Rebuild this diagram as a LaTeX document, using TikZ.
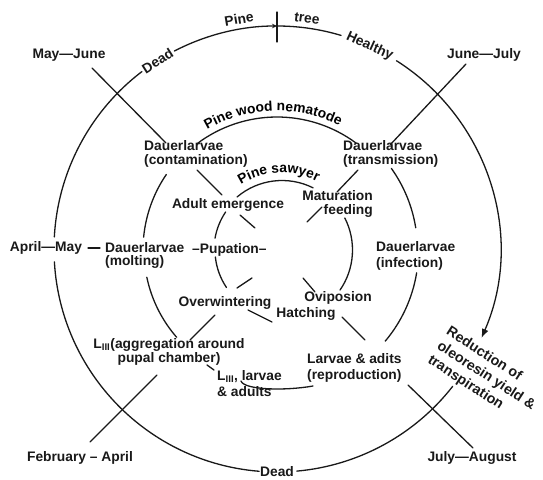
\documentclass[tikz,border=0pt]{standalone}
\usepackage{fontspec}
\setmainfont{Liberation Sans}
\usetikzlibrary{decorations.text,arrows.meta}
\newcommand\lblfont{\fontsize{13.8}{13.5}\selectfont\bfseries}
\newcommand\lblwide{\fontsize{13.8}{15.5}\selectfont\bfseries}
\newcommand\redfont{\fontsize{14.2}{17}\selectfont\bfseries}
\tikzset{
  lbl/.style={font=\lblfont, inner sep=0pt, text=black!90},
  lblw/.style={font=\lblwide, inner sep=0pt, text=black!90},
  ln/.style={line width=1.3pt, line cap=round, draw=black!90},
}
\begin{document}
\begin{tikzpicture}[x=1pt,y=-1pt]
\fill[white] (0,0) rectangle (543,479);
\useasboundingbox (0,0) rectangle (543,479);
\coordinate (O) at (277,249);
\coordinate (M) at (277,250);
\coordinate (I) at (282,250);

% ---- outer circle (pine tree) ----
\draw[ln] (O) ++(94.6:223) arc[start angle=94.6, end angle=176.7, radius=223];
\draw[ln] (O) ++(183.1:223) arc[start angle=183.1, end angle=232.7, radius=223];
\draw[ln, -{Stealth[length=5pt,width=4.5pt]}] (O) ++(242.6:223) arc[start angle=242.6, end angle=270, radius=223];
\draw[ln] (O) ++(270:223) arc[start angle=270, end angle=286.7, radius=223];
\draw[ln, -{Latex[length=9pt,width=7pt]}] (O) ++(302.4:223) arc[start angle=302.4, end angle=383.5, radius=223];
\draw[ln] (O) ++(38:223) arc[start angle=38, end angle=84.9, radius=223];
\coordinate (tk1) at (277,12);
\coordinate (tk2) at (277,42);
\draw[ln] (tk1) -- (tk2);

\node[lbl, rotate=9.5] (pine) at (239,19) {Pine};
\node[lbl, rotate=-7.7] (tree) at (307,18.5) {tree};
\node[lbl, rotate=32.4] (deadtop) at (157.5,60.8) {Dead};
\node[lbl, rotate=-24.5] (healthy) at (369.7,46.2) {Healthy};
\node[lbl] (deadbot) at (277,472) {Dead};
\node[font=\redfont, inner sep=0pt, text=black!90, rotate=-33, align=left] (red) at (486,376)
  {Reduction of\\oleoresin yield \&\\transpiration};

% ---- months ----
\node[lbl] (mj) at (69,55) {May—June};
\node[lbl] (jj) at (484,55) {June—July};
\node[lbl] (fa) at (80,458) {February – April};
\node[lbl] (ja) at (472,458) {July—August};
\node[lbl] (am) at (46,248) {April—May};

% ---- middle ring (pine wood nematode) ----
\draw[ln] (M) ++(233:133) arc[start angle=233, end angle=306.5, radius=133];
\path[decorate, decoration={text along path, text={|\lblfont|Pine wood nematode}, text align=center}]
  (M) ++(230:139) arc[start angle=230, end angle=306.6, radius=139];
\draw[ln] (M) ++(185.5:134) arc[start angle=185.5, end angle=214.3, radius=134];
\draw[ln] (M) ++(139:133) arc[start angle=139, end angle=168.2, radius=133];
\draw[ln] (M) ++(324.5:140.5) arc[start angle=324.5, end angle=350.9, radius=140.5];
\draw[ln] (M) ++(9.3:141.5) arc[start angle=9.3, end angle=40.1, radius=141.5];

\node[lbl, align=left, anchor=west] (cont) at (144,154) {Dauerlarvae\\(contamination)};
\node[lbl, align=left, anchor=west] (trans) at (343,154) {Dauerlarvae\\(transmission)};
\node[lblw, align=left, anchor=west] (inf) at (376,256) {Dauerlarvae\\(infection)};
\node[lbl, align=left, anchor=west] (mol) at (105,255.5) {Dauerlarvae\\(molting)};
\node[lbl, anchor=west] (pu) at (192,249.5) {–Pupation–};
\node[lbl, align=center] (ag) at (169,352) {L\textsubscript{III}(aggregation around\\pupal chamber)};
\node[lblw, align=left, anchor=west] (lla) at (217,383.5) {L\textsubscript{III}, larvae\\\& adults};
\node[lblw, align=left, anchor=west] (lar) at (307,368) {Larvae \& adits\\(reproduction)};

% ---- inner ring (pine sawyer) ----
\draw[ln] (I) ++(229.7:69.5) arc[start angle=229.7, end angle=296.6, radius=69.5];
\path[decorate, decoration={text along path, text={|\lblfont|Pine sawyer}, text align=center}]
  (I) ++(232:77) arc[start angle=232, end angle=303, radius=77];
\draw[ln] (I) ++(190:68) arc[start angle=190, end angle=214, radius=68];
\draw[ln] (I) ++(146:67) arc[start angle=146, end angle=174, radius=67];
\draw[ln] (I) ++(333:70.5) arc[start angle=333, end angle=394.6, radius=70.5];

\node[lbl] (ae) at (228,205) {Adult emergence};
\node[lbl, align=right, anchor=east] (mf) at (373,204) {Maturation\\feeding};
\node[lbl] (ow) at (225,303) {Overwintering};
\node[lbl] (ov) at (338,298) {Oviposion};
\node[lbl] (ha) at (306,314) {Hatching};

% ---- connectors ----
\draw[ln] (88,248) -- (100,248);          % April-May -- Dauerlarvae
\draw[ln] (197,170) -- (222,195);         % contamination -- adult emergence
\draw[ln] (358,170) -- (337,192);         % transmission -- maturation
\draw[ln] (240,215) -- (255,228);         % stubs
\draw[ln] (307,222) -- (322,207);
\draw[ln] (303,278) -- (315,292);
\draw[ln] (237,288) -- (252,278);
\draw[ln] (215,315) -- (190,340);         % overwintering -- aggregation
\draw[ln] (248,310) -- (272,322);         % overwintering -- hatching
\draw[ln] (342,317) -- (365,340);         % hatching -- larvae
\draw[ln] (207,365) -- (214,370);         % chamber -- LIII
\draw[ln] (241,381) .. controls (244,390) and (285,391) .. (313,386);
% month diagonals
\draw[ln] (92,68) -- (166,143);
\draw[ln] (466,64) -- (390,145);
\draw[ln] (157,375) -- (90,442);
\draw[ln] (408,385) -- (473,448);
\end{tikzpicture}
\end{document}
